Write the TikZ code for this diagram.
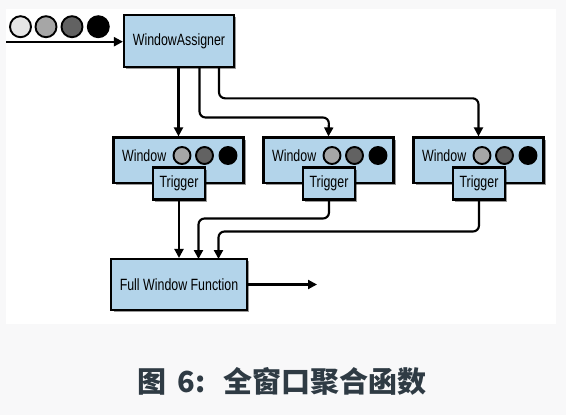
\documentclass[tikz,border=0pt]{standalone}
\usepackage{fontspec}
\setmainfont{Liberation Sans}[FakeStretch=0.76]
\newfontfamily\cjkfont{Noto Sans CJK SC}
\usetikzlibrary{arrows.meta,shadows}
\definecolor{boxblue}{HTML}{B3D4EA}
\definecolor{pagebg}{HTML}{F8F8F9}
\definecolor{capcol}{HTML}{2F3B44}
\definecolor{cA}{HTML}{E6E6E6}
\definecolor{cB}{HTML}{A6A6A6}
\definecolor{cC}{HTML}{626262}
\begin{document}
\begin{tikzpicture}[x=1pt,y=-1pt,
  box/.style={draw=black,line width=2.1pt,fill=boxblue,inner sep=0pt,
    drop shadow={shadow xshift=2.4pt,shadow yshift=-2.4pt,opacity=0.4,fill=black}},
  lbl/.style={font=\fontsize{16.3}{18}\selectfont,inner sep=0pt},
  dot/.style={circle,draw=black,line width=1.9pt,inner sep=0pt,minimum size=#1},
  conn/.style={line width=2.1pt,rounded corners=6pt,-{Triangle[length=9pt,width=9pt]}}]
\useasboundingbox (0,0) rectangle (566,415);
\fill[pagebg] (0,0) rectangle (566,415);
\fill[white] (6,9) rectangle (556,324);

% input circles
\node[dot=21pt,fill=cA] (i1) at (20.5,26.7) {};
\node[dot=21pt,fill=cB] (i2) at (46,26.7) {};
\node[dot=21pt,fill=cC] (i3) at (72,26.7) {};
\node[dot=21pt,fill=black] (i4) at (98.3,26.7) {};

% WindowAssigner
\node[box,minimum width=110pt,minimum height=52pt,lbl] (wa) at (179,41) {WindowAssigner};
\coordinate (in) at (6,41.7);
\draw[conn] (in) -- (in -| wa.west);

% windows
\foreach \i/\cx in {1/178.5,2/328.5,3/478.5}{
  \node[box,minimum width=130pt,minimum height=45.5pt] (w\i) at (\cx,160.2) {};
  \node[lbl,anchor=west] (wt\i) at ([xshift=9.5pt]w\i.west |- 0,155.5) {Window};
  \node[dot=17pt,fill=cB] (wc\i a) at (\cx+3.5,155.5) {};
  \node[dot=17pt,fill=cC] (wc\i b) at (\cx+26,155.5) {};
  \node[dot=17pt,fill=black] (wc\i c) at (\cx+49.5,155.5) {};
  \node[box,minimum width=52pt,minimum height=32pt,lbl] (t\i) at (\cx+0.5,183.5) {Trigger};
}

% Full window function
\node[box,minimum width=135.5pt,minimum height=51pt,lbl] (fwf) at (179,284.5) {Full Window Function};
\coordinate (out) at (317,284.5);
\draw[conn] (fwf.east) -- (out);

% WindowAssigner to windows
\draw[conn] (wa.south -| w1.north) -- (w1.north);
\draw[conn] (199.5,67) |- (329,117.5) -- (w2.north);
\draw[conn] (219,67) |- (478.5,98.3) -- (w3.north);

% triggers to function
\draw[conn] (t1.south) -- (t1.south |- fwf.north);
\draw[conn] (t2.south) |- (198.5,218.5) -- (198.5,259);
\draw[conn] (t3.south) |- (218.5,231.5) -- (218.5,259);

% caption
\node[font=\cjkfont\bfseries\fontsize{29}{32}\selectfont,text=capcol,inner sep=0pt,anchor=base west] (cap) at (137,392.5) {图\hspace{11.5pt}6:\hspace{18pt}全窗口聚合函数};
\end{tikzpicture}
\end{document}
